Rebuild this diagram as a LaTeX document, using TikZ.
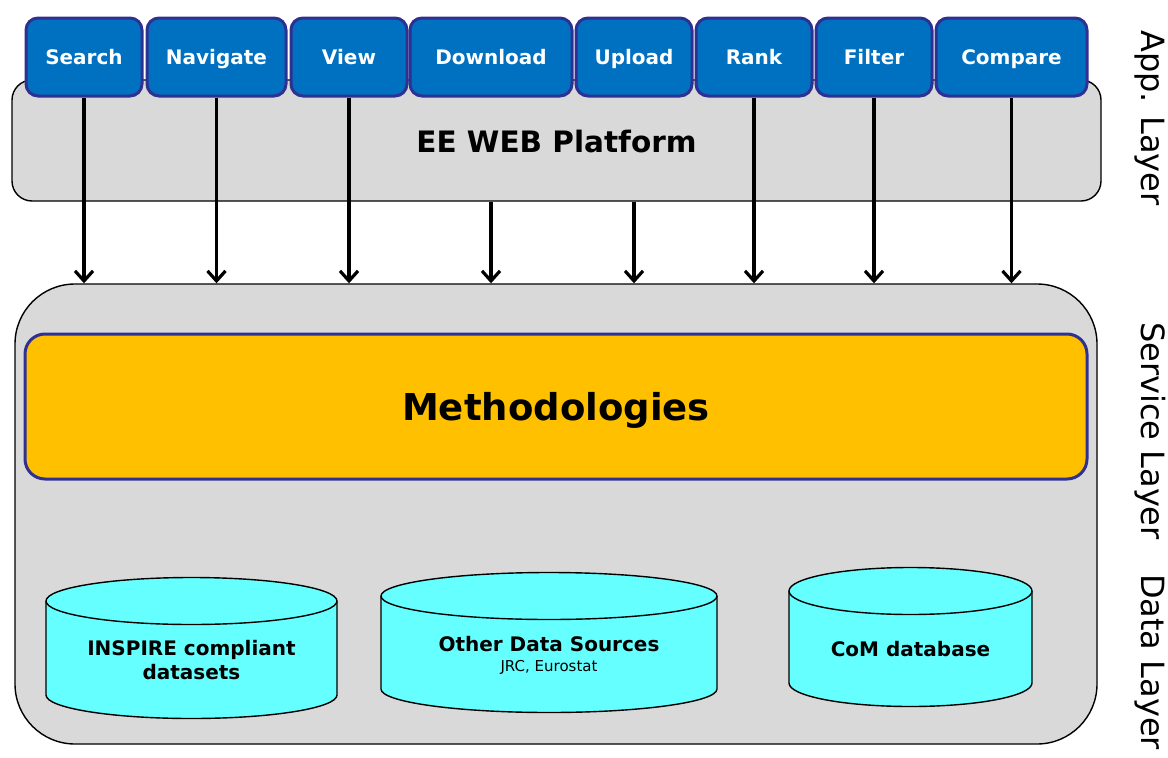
\documentclass[tikz,border=0pt]{standalone}
\usepackage{fontspec}
\setmainfont{DejaVu Sans}
\usetikzlibrary{arrows.meta}

\definecolor{btnblue}{HTML}{0070C0}
\definecolor{btnedge}{HTML}{2E3192}
\definecolor{layergray}{HTML}{D9D9D9}
\definecolor{methorange}{HTML}{FFC000}
\definecolor{dbcyan}{HTML}{66FFFF}

\begin{document}
\begin{tikzpicture}[x=1pt, y=-1pt,
    layerbox/.style={draw=black, fill=layergray, line width=1.4pt},
    btn/.style={draw=btnedge, fill=btnblue, line width=3pt, rounded corners=12pt,
        minimum height=78pt, text height=16pt, text depth=1.5pt, text=white,
        font=\fontsize{20}{23}\selectfont\bfseries},
    cyl/.style={draw=black, fill=dbcyan, line width=1.4pt},
    dbtext/.style={font=\fontsize{20}{24}\selectfont\bfseries, align=center},
    sidelabel/.style={rotate=-90, font=\fontsize{32}{36}\selectfont},
    arr/.style={-{Straight Barb[length=10pt, width=18pt]}, line width=3.2pt}]
    \useasboundingbox (0,0) rectangle (1168,758);

    % 各レイヤーの枠
    \node[layerbox, rounded corners=20pt, minimum width=1089pt, minimum height=121pt] (platform) at (556.5,140.5) {};
    \node[font=\fontsize{29.5}{33}\selectfont\bfseries] (platformtext) at (556.5,141) {EE WEB Platform};
    \node[layerbox, rounded corners=60pt, minimum width=1082pt, minimum height=460pt] (service) at (556,514) {};
    \node[draw=btnedge, fill=methorange, line width=3pt, rounded corners=20pt,
        minimum width=1062pt, minimum height=145pt, text height=30pt, text depth=2pt,
        font=\fontsize{37}{42}\selectfont\bfseries]
        (method) at (556,406.5) {Methodologies};

    % 上のボタン
    \foreach \name/\txt/\cx/\w in {search/Search/84/116, navigate/Navigate/216.5/139,
        view/View/349/116, download/Download/491/162, upload/Upload/634/116,
        rank/Rank/754/116, filter/Filter/874/116, compare/Compare/1011.5/151} {
        \node[btn, minimum width=\w pt] (\name) at (\cx,57) {\txt};
    }

    \foreach \name in {search, navigate, view, rank, filter, compare} {
        \draw[arr] (\name.south) -- (\name.south |- service.north);
    }
    \foreach \name in {download, upload} {
        \draw[arr] (platform.south -| \name) -- (\name |- service.north);
    }

    % データベース（円柱）
    \foreach \name/\cx/\rx/\yt/\yb in {inspire/191.5/145.5/601/695,
        other/549/168/596/689, com/910.5/121.5/591/683} {
        \filldraw[cyl] (\cx-\rx,\yt) -- (\cx-\rx,\yb)
            arc[start angle=180, delta angle=180, x radius=\rx pt, y radius=23.5pt] -- (\cx+\rx,\yt);
        \filldraw[cyl] (\cx,\yt) ellipse[x radius=\rx pt, y radius=23.5pt];
        \coordinate (\name) at (\cx,{(\yt+\yb)/2+12});
    }
    \node[dbtext] (inspiretext) at (inspire) {INSPIRE compliant\\datasets};
    \node[dbtext] (othertext) at ([yshift=-1pt]other) {Other Data Sources\\[-4pt]{\fontsize{15}{18}\selectfont\mdseries JRC, Eurostat}};
    \node[dbtext] (comtext) at (com) {CoM database};

    % 右側のラベル
    \node[sidelabel] (applabel) at (1150,118) {App. Layer};
    \node[sidelabel] (servicelabel) at (1150,431) {Service Layer};
    \node[sidelabel] (datalabel) at (1150,662) {Data Layer};
\end{tikzpicture}
\end{document}
